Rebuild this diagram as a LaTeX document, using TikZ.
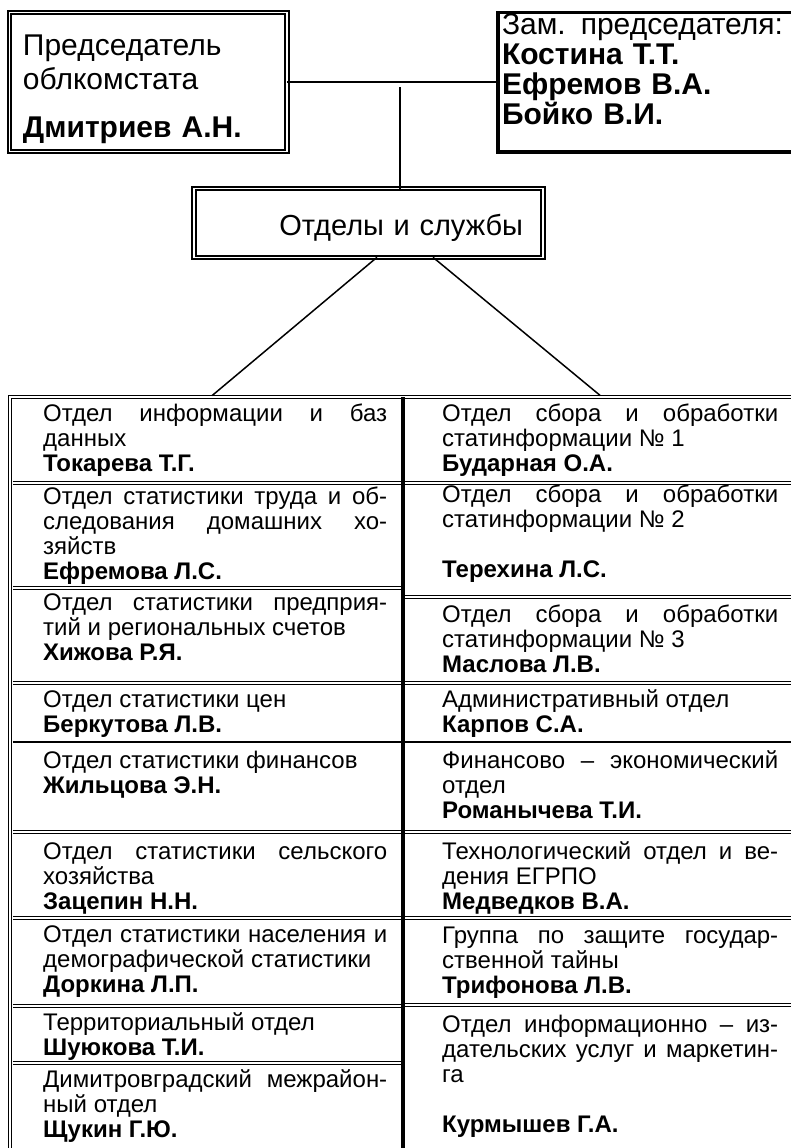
\documentclass[tikz,border=0pt]{standalone}
\usepackage{fontspec}
\setmainfont{Liberation Sans}
\usetikzlibrary{calc}

\newcommand{\cellfont}{\fontsize{24}{25}\selectfont}
\newcommand{\headfont}{\fontsize{30}{34}\selectfont}
\newcommand{\deptfont}{\fontsize{29}{34}\selectfont}
\newcommand{\zamfont}{\fontsize{30}{29.7}\selectfont}
% one justified line of a cell
\newcommand{\jline}[1]{\makebox[\linewidth][s]{#1}\\}
\newcommand{\toppad}[1]{\rule{0pt}{#1}}
\newcommand{\botpad}[1]{\rule[-#1]{0pt}{#1}}

\begin{document}
\begin{tikzpicture}[
    x=1pt, y=-1pt,
    % Box styles
    chief/.style={
        draw,
        double,
        line width=1.8pt,
        double distance=1.6pt,
        outer sep=0pt,
        inner ysep=0pt,
        align=left
    },
    deputy/.style={
        draw,
        line width=3.5pt,
        outer sep=0pt,
        inner ysep=0pt,
        align=left
    },
    cell/.style={
        anchor=base west,
        inner sep=0pt,
        align=justify,
        font=\cellfont
    },
    lcell/.style={cell, text width=344pt},
    rcell/.style={cell, text width=336pt},
    % Lines
    link/.style={line width=1.5pt},
    dline/.style={double, line width=1pt, double distance=2pt},
    thickline/.style={line width=4pt}
]
\useasboundingbox (0,0) rectangle (791,1148);

% --- Head boxes ---
\node (pred) [chief, anchor=north west, text width=250.5pt, inner xsep=13.5pt, font=\headfont]
    at (9.5,12.7) {\toppad{43.3pt}Председатель\\ облкомстата\\[14pt] \textbf{Дмитриев А.Н.}\botpad{13.5pt}};
\node (zam) [deputy, anchor=north west, text width=300pt, inner xsep=4pt, font=\zamfont]
    at (498,12.3) {\toppad{22.7pt}Зам. председателя:\\ \textbf{Костина Т.Т.}\\ \textbf{Ефремов В.А.}\\ \textbf{Бойко В.И.}\botpad{27.7pt}};
\node (dept) [chief, anchor=north west, text width=309pt, inner xsep=20pt, align=right, font=\deptfont]
    at (194,188.5) {\toppad{46.5pt}Отделы и службы\botpad{22.3pt}};

\coordinate (hub) at (400,87);
\coordinate (tabtop) at (10.3,397);
\coordinate (mid) at (402.5,397);

% --- Table cells ---
\node (l1) [lcell] at (43,421) {\jline{Отдел информации и баз} данных\\ \textbf{Токарева Т.Г.}};
\node (l2) [lcell] at (43,504) {\jline{Отдел статистики труда и об-} \jline{следования домашних хо-} зяйств\\ \textbf{Ефремова Л.С.}};
\node (l3) [lcell] at (43,610) {\jline{Отдел статистики предприя-} тий и региональных счетов\\ \textbf{Хижова Р.Я.}};
\node (l4) [lcell] at (43,707) {Отдел статистики цен\\ \textbf{Беркутова Л.В.}};
\node (l5) [lcell] at (43,768) {Отдел статистики финансов\\ \textbf{Жильцова Э.Н.}};
\node (l6) [lcell] at (43,859) {\jline{Отдел статистики сельского} хозяйства\\ \textbf{Зацепин Н.Н.}};
\node (l7) [lcell] at (43,942) {\jline{Отдел статистики населения и} демографической статистики\\ \textbf{Доркина Л.П.}};
\node (l8) [lcell] at (43,1030) {Территориальный отдел\\ \textbf{Шуюкова Т.И.}};
\node (l9) [lcell] at (43,1087) {\jline{Димитровградский межрайон-} ный отдел\\ \textbf{Щукин Г.Ю.}};

\node (r1) [rcell] at (442,421) {\jline{Отдел сбора и обработки} статинформации №~1\\ \textbf{Бударная О.А.}};
\node (r2) [rcell] at (442,502) {\jline{Отдел сбора и обработки} статинформации №~2\\[25pt] \textbf{Терехина Л.С.}};
\node (r3) [rcell] at (442,622) {\jline{Отдел сбора и обработки} статинформации №~3\\ \textbf{Маслова Л.В.}};
\node (r4) [rcell] at (442,707) {Административный отдел\\ \textbf{Карпов С.А.}};
\node (r5) [rcell] at (442,768) {\jline{Финансово – экономический} отдел\\ \textbf{Романычева Т.И.}};
\node (r6) [rcell] at (442,859) {\jline{Технологический отдел и ве-} дения ЕГРПО\\ \textbf{Медведков В.А.}};
\node (r7) [rcell] at (442,943) {\jline{Группа по защите государ-} ственной тайны\\ \textbf{Трифонова Л.В.}};
\node (r8) [rcell] at (442,1032) {\jline{Отдел информационно – из-} \jline{дательских услуг и маркетин-} га\\[25pt] \textbf{Курмышев Г.А.}};

% --- Table rules ---
\draw [dline] (800,397) -- (tabtop) -- (10.3,1160);
\foreach \y in {483,588,683,832,918,1006,1063}
    \draw [dline] (12.8,\y) -- (402.5,\y);
\foreach \y in {483,597,683,832,918,1005}
    \draw [dline] (402.5,\y) -- (800,\y);
\draw [line width=2.5pt] (12.8,742) -- (800,742);
\draw [thickline] (mid) -- (402.5,1160);

% --- Connectors ---
\draw [link] (pred.east) -- (pred.east -| zam.west);
\draw [link] (hub) -- (hub |- dept.north);
\draw [link] ($(dept.south)+(8.5,0)$) -- ($(l1.north |- tabtop)+(-3,-1.5)$);
\draw [link] ($(dept.south)+(64.5,0)$) -- ($(r1.north |- tabtop)+(-10,-1.5)$);

\end{tikzpicture}
\end{document}
